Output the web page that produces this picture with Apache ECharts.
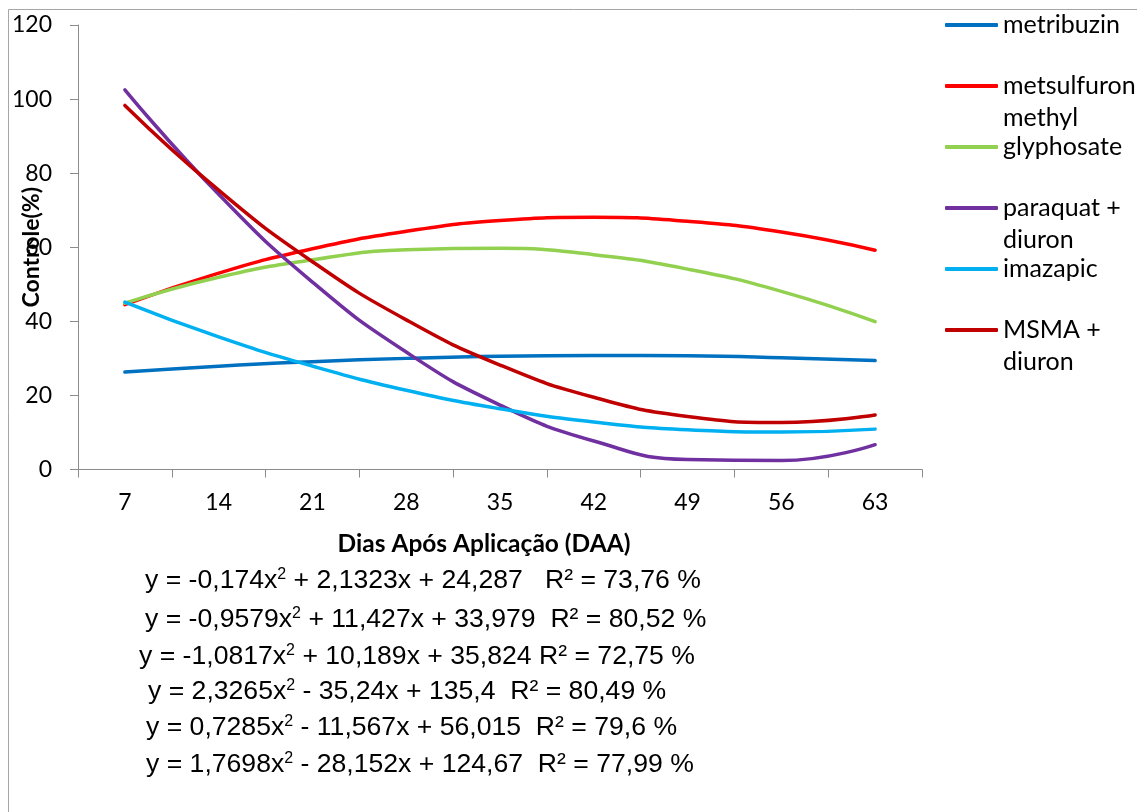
<!DOCTYPE html>
<html>
<head>
<meta charset="utf-8">
<script src="https://cdn.jsdelivr.net/npm/echarts@6/dist/echarts.min.js"></script>
<style>
  html, body { margin: 0; padding: 0; background: #ffffff; }
  #chart { width: 1137px; height: 812px; }
</style>
</head>
<body>
<div id="chart"></div>
<script>
// Days after application (category axis)
const days = ['7', '14', '21', '28', '35', '42', '49', '56', '63'];

// Treatments and their legend labels (wrapped as in the legend)
const seriesNames = ['metribuzin', 'metsulfuron methyl', 'glyphosate', 'paraquat + diuron', 'imazapic', 'MSMA + diuron'];
const legendLabels = ['metribuzin', 'metsulfuron\nmethyl', 'glyphosate', 'paraquat +\ndiuron', 'imazapic', 'MSMA +\ndiuron'];
const seriesColors = ['#0070C0', '#FF0000', '#92D050', '#7030A0', '#00B0F0', '#C00000'];

// Control (%) per treatment, one value per evaluation day
const metribuzin        = [26.3, 27.9, 29.1, 30.0, 30.6, 30.8, 30.7, 30.2, 29.4];
const metsulfuronMethyl = [44.5, 53.0, 59.6, 64.3, 67.2, 68.1, 67.0, 64.1, 59.2];
const glyphosate        = [44.9, 51.9, 56.6, 59.3, 59.7, 58.0, 54.1, 48.1, 39.9];
const paraquatDiuron    = [102.5, 74.3, 50.6, 31.7, 17.4, 7.7, 2.7, 2.4, 6.7];
const imazapic          = [45.2, 35.8, 27.9, 21.4, 16.4, 12.8, 10.7, 10.1, 10.9];
const msmaDiuron        = [98.3, 75.4, 56.1, 40.4, 28.2, 19.5, 14.3, 12.7, 14.7];
const seriesValues = [metribuzin, metsulfuronMethyl, glyphosate, paraquatDiuron, imazapic, msmaDiuron];

// Value axis ticks
const yMin = 0, yMax = 120, yStep = 20;

// Regression equations printed under the axis title ({s|2} = superscript)
const equations = [
  'y = -0,174x{s|2} + 2,1323x + 24,287   R² = 73,76 %',
  'y = -0,9579x{s|2} + 11,427x + 33,979  R² = 80,52 %',
  'y = -1,0817x{s|2} + 10,189x + 35,824 R² = 72,75 %',
  'y = 2,3265x{s|2} - 35,24x + 135,4  R² = 80,49 %',
  'y = 0,7285x{s|2} - 11,567x + 56,015  R² = 79,6 %',
  'y = 1,7698x{s|2} - 28,152x + 124,67  R² = 77,99 %'
];
const equationX = [145, 145, 139, 148, 146, 146];
const equationY = [581, 620, 657, 692, 728, 765];

const chart = echarts.init(document.getElementById('chart'), null, { renderer: 'canvas' });

const labelFont = 'Lato, "Open Sans", sans-serif';
const axisColor = '#8c8c8c';

const series = seriesNames.map((name, i) => ({
  name: name,
  type: 'line',
  data: seriesValues[i],
  smooth: true,
  symbol: 'none',
  color: seriesColors[i],
  lineStyle: { width: 3.5, color: seriesColors[i], cap: 'round' },
  emphasis: { disabled: true },
  animation: false
}));

// Wrapped labels get a blank leading line so the first text line sits level with the icon
const legendText = (name) => {
  const label = legendLabels[seriesNames.indexOf(name)];
  return label.indexOf('\n') >= 0 ? '\u00a0\n' + label : label;
};

const graphics = [
  {
    type: 'rect',
    silent: true,
    z: -10,
    shape: { x: 8.5, y: 9.5, width: 1300, height: 1000 },
    style: { fill: 'none', stroke: '#a6a6a6', lineWidth: 1 }
  }
].concat(equations.map((txt, i) => ({
  type: 'text',
  silent: true,
  x: equationX[i],
  y: equationY[i],
  style: {
    text: txt,
    fill: '#000000',
    font: '26.6px "Liberation Sans", Arial, sans-serif',
    align: 'left',
    verticalAlign: 'middle',
    rich: {
      s: { fontSize: 16, fontFamily: '"Liberation Sans", Arial, sans-serif', fill: '#000', verticalAlign: 'top', padding: [0, 0, 12, 0] }
    }
  }
})));

chart.setOption({
  animation: false,
  backgroundColor: '#ffffff',
  grid: { left: 78, right: 215, top: 25, bottom: 342.5, containLabel: false, outerBoundsMode: 'none' },
  legend: {
    orient: 'vertical',
    left: 945,
    top: 9,
    padding: 0,
    itemGap: -3,
    itemWidth: 53,
    itemHeight: 4,
    icon: 'roundRect',
    selectedMode: false,
    data: seriesNames,
    formatter: legendText,
    textStyle: { fontFamily: labelFont, fontSize: 25, lineHeight: 32, color: '#000000' }
  },
  xAxis: {
    type: 'category',
    data: days,
    boundaryGap: true,
    name: 'Dias Após Aplicação (DAA)',
    nameLocation: 'middle',
    nameGap: 62,
    nameMoveOverlap: false,
    nameTextStyle: { fontFamily: labelFont, fontSize: 24.5, fontWeight: 'bold', color: '#000', padding: [0, 32, 0, 0] },
    axisLine: { show: true, lineStyle: { color: axisColor, width: 1 } },
    axisTick: { show: true, length: 8, lineStyle: { color: axisColor } },
    axisLabel: { fontFamily: labelFont, fontSize: 23, color: '#000', margin: 22 },
    splitLine: { show: false }
  },
  yAxis: {
    type: 'value',
    min: yMin,
    max: yMax,
    interval: yStep,
    name: 'Controle(%)',
    nameLocation: 'middle',
    nameGap: 35,
    nameMoveOverlap: false,
    nameTextStyle: { fontFamily: labelFont, fontSize: 23, fontWeight: 'bold', color: '#000' },
    axisLine: { show: true, lineStyle: { color: axisColor, width: 1 } },
    axisTick: { show: true, length: 8, lineStyle: { color: axisColor } },
    axisLabel: { fontFamily: labelFont, fontSize: 23, color: '#000', margin: 26 },
    splitLine: { show: false }
  },
  series: series,
  graphic: graphics
});
</script>
</body>
</html>
